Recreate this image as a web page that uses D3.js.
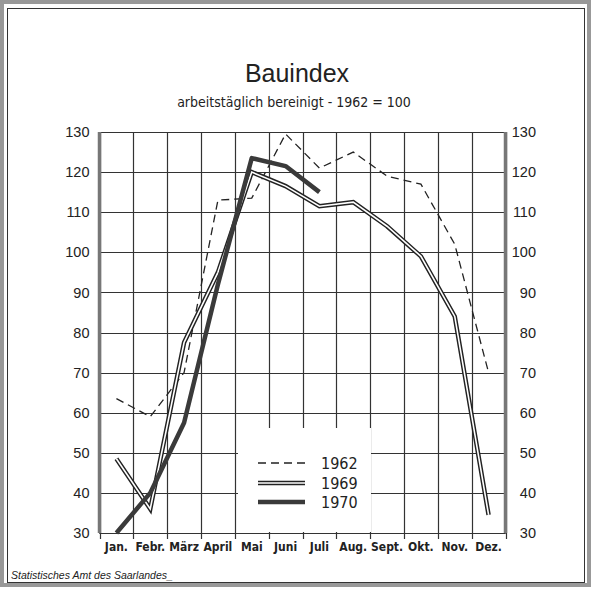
<!DOCTYPE html>
<html>
<head>
<meta charset="utf-8">
<script src="https://cdn.jsdelivr.net/npm/d3@7"></script>
<style>
    body { margin: 0; background: #fff; }
    svg { display: block; }
</style>
</head>
<body>
<div id="chart"></div>
<script>
(function () {
    'use strict';

    var months = ['Jan.', 'Febr.', 'März', 'April', 'Mai', 'Juni', 'Juli', 'Aug.', 'Sept.', 'Okt.', 'Nov.', 'Dez.'];
    var values1962 = [63.5, 59, 70, 113, 113.5, 129.5, 121, 125, 119, 117, 102, 70];
    var values1969 = [48.5, 36, 77.5, 95, 120, 116.5, 111.5, 112.5, 106.5, 99, 84, 34.5];
    var values1970 = [30, 40, 57.5, 92, 123.5, 121.5, 115];
    var yTicks = [30, 40, 50, 60, 70, 80, 90, 100, 110, 120, 130];
    var legendYears = ['1962', '1969', '1970'];

    var width = 591,
        height = 602,
        left = 99.5,
        right = 505.5,
        top = 132,
        bottom = 533;

    var svg = d3.select('#chart')
        .append('svg')
        .attr('width', width)
        .attr('height', height);

    var x = d3.scaleBand()
        .domain(months)
        .range([left, right])
        .padding(0);

    var y = d3.scaleLinear()
        .domain([30, 130])
        .range([bottom, top]);

    function cx(d, i) { return x(months[i]) + x.bandwidth() / 2; }

    // outer frame
    svg.append('rect')
        .attr('x', 2).attr('y', 2)
        .attr('width', width - 4).attr('height', 583)
        .attr('fill', 'none')
        .attr('stroke', '#999')
        .attr('stroke-width', 4);
    svg.append('rect')
        .attr('x', 7.5).attr('y', 8.5)
        .attr('width', width - 14).attr('height', 574)
        .attr('fill', 'none')
        .attr('stroke', '#333')
        .attr('stroke-width', 1);

    // title
    svg.append('text')
        .attr('x', 297).attr('y', 82)
        .attr('text-anchor', 'middle')
        .attr('font-family', 'Liberation Sans, Arial, sans-serif')
        .attr('font-size', 25)
        .attr('fill', '#222')
        .text('Bauindex');

    svg.append('text')
        .attr('x', 294).attr('y', 107)
        .attr('text-anchor', 'middle')
        .attr('font-family', 'Liberation Sans Narrow, DejaVu Sans Condensed, sans-serif')
        .attr('font-size', 14)
        .attr('fill', '#222')
        .text('arbeitstäglich bereinigt - 1962 = 100');

    // grid
    var grid = svg.append('g')
        .attr('stroke', '#333')
        .attr('stroke-width', 1.2);

    grid.selectAll('line.h')
        .data(yTicks)
        .enter()
        .append('line')
        .attr('class', 'h')
        .attr('x1', left).attr('x2', right)
        .attr('y1', function (d) { return Math.round(y(d)) + 0.5; })
        .attr('y2', function (d) { return Math.round(y(d)) + 0.5; });

    var edges = months.map(function (m) { return x(m); }).concat([right]);

    grid.selectAll('line.v')
        .data(edges)
        .enter()
        .append('line')
        .attr('class', 'v')
        .attr('x1', function (d) { return Math.round(d) + 0.5; })
        .attr('x2', function (d) { return Math.round(d) + 0.5; })
        .attr('y1', top).attr('y2', bottom + 6);

    // blank area behind the legend
    svg.append('rect')
        .attr('x', 238).attr('y', 428)
        .attr('width', 133).attr('height', bottom - 429)
        .attr('fill', '#fff');

    // thick side borders
    [left, right].forEach(function (xx) {
        svg.append('line')
            .attr('x1', xx).attr('x2', xx)
            .attr('y1', top).attr('y2', bottom)
            .attr('stroke', '#777')
            .attr('stroke-width', 3.5);
    });

    svg.append('line')
        .attr('x1', left).attr('x2', right)
        .attr('y1', bottom + 0.5).attr('y2', bottom + 0.5)
        .attr('stroke', '#333')
        .attr('stroke-width', 1.2);

    // y axes
    var yAxisLeft = d3.axisLeft(y).tickValues(yTicks).tickSize(0).tickPadding(9);
    var yAxisRight = d3.axisRight(y).tickValues(yTicks).tickSize(0).tickPadding(0);

    svg.append('g')
        .attr('transform', 'translate(' + (left - 1) + ',0)')
        .call(yAxisLeft)
        .call(styleAxis);

    svg.append('g')
        .attr('transform', 'translate(536,0)')
        .call(yAxisRight)
        .call(styleAxis)
        .call(function (g) {
            g.selectAll('text').attr('text-anchor', 'end');
        });

    function styleAxis(g) {
        g.select('.domain').remove();
        g.selectAll('text')
            .attr('font-family', 'Liberation Sans, Arial, sans-serif')
            .attr('font-size', 14.5)
            .attr('fill', '#222');
    }

    // x axis labels
    var xAxis = d3.axisBottom(x).tickSize(0).tickPadding(8);
    svg.append('g')
        .attr('transform', 'translate(0,' + (bottom + 1) + ')')
        .call(xAxis)
        .call(function (g) {
            g.select('.domain').remove();
            g.selectAll('text')
                .attr('font-family', 'DejaVu Sans Condensed, sans-serif')
                .attr('font-weight', 'bold')
                .attr('font-size', 12)
                .attr('fill', '#222');
        });

    // series
    var line = d3.line()
        .x(cx)
        .y(function (d) { return y(d); });

    svg.append('path')
        .datum(values1962)
        .attr('d', line)
        .attr('fill', 'none')
        .attr('stroke', '#222')
        .attr('stroke-width', 1.3)
        .attr('stroke-dasharray', '8,5');

    svg.append('path')
        .datum(values1969)
        .attr('d', line)
        .attr('fill', 'none')
        .attr('stroke', '#222')
        .attr('stroke-width', 4.5)
        .attr('stroke-linejoin', 'miter');
    svg.append('path')
        .datum(values1969)
        .attr('d', line)
        .attr('fill', 'none')
        .attr('stroke', '#fff')
        .attr('stroke-width', 1.6)
        .attr('stroke-linejoin', 'miter');

    svg.append('path')
        .datum(values1970)
        .attr('d', line)
        .attr('fill', 'none')
        .attr('stroke', '#3a3a3a')
        .attr('stroke-width', 4.5)
        .attr('stroke-linejoin', 'round');

    // legend
    var legend = svg.append('g');
    var ly = [463, 483, 502];

    legend.append('line')
        .attr('x1', 258).attr('x2', 305)
        .attr('y1', ly[0]).attr('y2', ly[0])
        .attr('stroke', '#222').attr('stroke-width', 1.3)
        .attr('stroke-dasharray', '8,5');
    legend.append('line')
        .attr('x1', 258).attr('x2', 305)
        .attr('y1', ly[1]).attr('y2', ly[1])
        .attr('stroke', '#222').attr('stroke-width', 4.5);
    legend.append('line')
        .attr('x1', 258).attr('x2', 305)
        .attr('y1', ly[1]).attr('y2', ly[1])
        .attr('stroke', '#fff').attr('stroke-width', 1.6);
    legend.append('line')
        .attr('x1', 258).attr('x2', 305)
        .attr('y1', ly[2]).attr('y2', ly[2])
        .attr('stroke', '#3a3a3a').attr('stroke-width', 4.5);

    legend.selectAll('text')
        .data(legendYears)
        .enter()
        .append('text')
        .attr('x', 321)
        .attr('y', function (d, i) { return ly[i] + 6; })
        .attr('font-family', 'Liberation Sans Narrow, DejaVu Sans Condensed, sans-serif')
        .attr('font-size', 16)
        .attr('fill', '#222')
        .text(function (d) { return d; });

    // source
    svg.append('text')
        .attr('x', 11).attr('y', 579)
        .attr('font-family', 'Liberation Sans, Arial, sans-serif')
        .attr('font-style', 'italic')
        .attr('font-size', 10.5)
        .attr('fill', '#222')
        .text('Statistisches Amt des Saarlandes_');
}());
</script>
</body>
</html>
